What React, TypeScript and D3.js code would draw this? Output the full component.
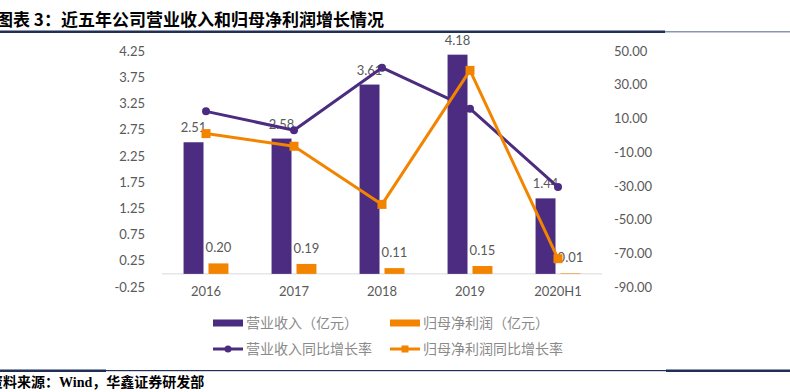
import React, {useEffect, useRef} from 'react';
import * as d3 from "d3";

const years = ["2016", "2017", "2018", "2019", "2020H1"];
const revenue = [2.51, 2.58, 3.61, 4.18, 1.44];
const netProfit = [0.20, 0.19, 0.11, 0.15, 0.01];
const revenueGrowth = [14.2, 3.0, 40.1, 15.8, -30.7];
const profitGrowth = [1.0, -6.5, -41.0, 38.5, -73.2];
const leftTicks = [-0.25, 0.25, 0.75, 1.25, 1.75, 2.25, 2.75, 3.25, 3.75, 4.25];
const rightTicks = [-90, -70, -50, -30, -10, 10, 30, 50];

const PURPLE = "#4b2c80";
const ORANGE = "#f38400";
const GRAY = "#595959";
const NUM_FONT = "Lato, 'Noto Sans', sans-serif";
const CJK_FONT = "'Noto Sans CJK SC', sans-serif";

export default function App() {
    const ref = useRef<SVGSVGElement>(null);

    useEffect(() => {
        const svg = d3.select(ref.current);
        svg.selectAll("*").remove();

        const W = 790;
        const plot = {left: 162, right: 602, top: 51, bottom: 287};

        // title + rules
        svg.append("text")
            .attr("x", -4).attr("y", 26)
            .attr("font-family", CJK_FONT).attr("font-weight", "bold")
            .attr("font-size", 17).attr("fill", "#000")
            .text("图表 3：近五年公司营业收入和归母净利润增长情况");
        svg.append("rect").attr("x", 0).attr("y", 30.5).attr("width", 665).attr("height", 2.5).attr("fill", "#1f2f55");
        svg.append("rect").attr("x", 665).attr("y", 31).attr("width", W - 665).attr("height", 1.5).attr("fill", "#8a96b0");

        svg.append("rect").attr("x", 0).attr("y", 369.5).attr("width", 106).attr("height", 2.5).attr("fill", "#1f2f55");
        svg.append("rect").attr("x", 106).attr("y", 370).attr("width", 560).attr("height", 1.2).attr("fill", "#1f2f55");
        svg.append("rect").attr("x", 666).attr("y", 369.5).attr("width", W - 666).attr("height", 2.5).attr("fill", "#1f2f55");
        svg.append("text")
            .attr("x", -11).attr("y", 387)
            .attr("font-family", "'Liberation Serif', 'Noto Sans CJK SC', serif").attr("font-weight", "bold")
            .attr("font-size", 14).attr("fill", "#000")
            .text("资料来源：Wind，华鑫证券研发部");

        // scales
        const x = d3.scaleBand<string>()
            .domain(years)
            .range([plot.left, plot.right])
            .paddingInner(0.49)
            .paddingOuter(0.245);
        const sub = d3.scaleBand<string>()
            .domain(["rev", "np"])
            .range([0, x.bandwidth()])
            .paddingInner(0.2);
        const yL = d3.scaleLinear().domain([-0.25, 4.25]).range([plot.bottom, plot.top]);
        const yR = d3.scaleLinear().domain([-90, 50]).range([plot.bottom, plot.top]);
        const cx = (i: number) => (x(years[i]) as number) + x.bandwidth() / 2;

        // axes
        const leftAxis = svg.append("g")
            .attr("transform", `translate(${plot.left},0)`)
            .call(d3.axisLeft(yL).tickValues(leftTicks).tickSize(0).tickPadding(17)
                .tickFormat((d: any) => (+d).toFixed(2)));
        const rightAxis = svg.append("g")
            .attr("transform", `translate(${plot.right},0)`)
            .call(d3.axisRight(yR).tickValues(rightTicks).tickSize(0).tickPadding(12)
                .tickFormat((d: any) => (+d).toFixed(2)));
        [leftAxis, rightAxis].forEach(a => {
            a.select(".domain").remove();
            a.selectAll("text").attr("font-family", NUM_FONT).attr("font-size", 13).attr("fill", GRAY);
        });

        svg.append("line")
            .attr("x1", plot.left).attr("x2", plot.right)
            .attr("y1", yL(0)).attr("y2", yL(0))
            .attr("stroke", "#d9d9d9").attr("stroke-width", 1);

        const bottomAxis = svg.append("g")
            .attr("transform", `translate(0,${yL(0)})`)
            .call(d3.axisBottom(x).tickSize(0).tickPadding(13));
        bottomAxis.select(".domain").remove();
        bottomAxis.selectAll("text").attr("font-family", NUM_FONT).attr("font-size", 13).attr("fill", GRAY);

        // bars
        const bars = svg.append("g");
        bars.selectAll(".rev").data(revenue).enter().append("rect")
            .attr("x", (d, i) => (x(years[i]) as number) + (sub("rev") as number))
            .attr("y", d => yL(d))
            .attr("width", sub.bandwidth())
            .attr("height", d => yL(0) - yL(d))
            .attr("fill", PURPLE);
        bars.selectAll(".np").data(netProfit).enter().append("rect")
            .attr("x", (d, i) => (x(years[i]) as number) + (sub("np") as number))
            .attr("y", d => yL(d))
            .attr("width", sub.bandwidth())
            .attr("height", d => yL(0) - yL(d))
            .attr("fill", ORANGE);

        // bar labels
        const labels = svg.append("g")
            .attr("font-family", NUM_FONT).attr("font-size", 13).attr("fill", GRAY)
            .attr("text-anchor", "middle");
        revenue.forEach((d, i) => {
            labels.append("text")
                .attr("x", (x(years[i]) as number) + (sub("rev") as number) + sub.bandwidth() / 2)
                .attr("y", yL(d) - 10)
                .text(d.toFixed(2));
        });
        netProfit.forEach((d, i) => {
            labels.append("text")
                .attr("x", (x(years[i]) as number) + (sub("np") as number) + sub.bandwidth() / 2)
                .attr("y", yL(d) - 11)
                .text(d.toFixed(2));
        });

        // growth lines
        const line = d3.line<number>().x((d, i) => cx(i)).y(d => yR(d));
        svg.append("path").datum(revenueGrowth)
            .attr("d", line).attr("fill", "none")
            .attr("stroke", PURPLE).attr("stroke-width", 3).attr("stroke-linejoin", "round");
        svg.append("g").selectAll("circle").data(revenueGrowth).enter().append("circle")
            .attr("cx", (d, i) => cx(i)).attr("cy", d => yR(d)).attr("r", 4)
            .attr("fill", PURPLE);

        svg.append("path").datum(profitGrowth)
            .attr("d", line).attr("fill", "none")
            .attr("stroke", ORANGE).attr("stroke-width", 3).attr("stroke-linejoin", "round");
        svg.append("g").selectAll("rect").data(profitGrowth).enter().append("rect")
            .attr("x", (d, i) => cx(i) - 4.5).attr("y", d => yR(d) - 4.5)
            .attr("width", 9).attr("height", 9)
            .attr("fill", ORANGE);

        // legend
        const legend = svg.append("g")
            .attr("font-family", CJK_FONT).attr("font-size", 14).attr("fill", "#8a8a8a");
        const items = [
            {label: "营业收入（亿元）", color: PURPLE, kind: "bar", x: 213, y: 323},
            {label: "归母净利润（亿元）", color: ORANGE, kind: "bar", x: 390, y: 323},
            {label: "营业收入同比增长率", color: PURPLE, kind: "circle", x: 213, y: 349},
            {label: "归母净利润同比增长率", color: ORANGE, kind: "square", x: 390, y: 349},
        ];
        items.forEach(it => {
            if (it.kind === "bar") {
                legend.append("rect").attr("x", it.x).attr("y", it.y - 3.5)
                    .attr("width", 30).attr("height", 7).attr("fill", it.color);
            } else {
                legend.append("line").attr("x1", it.x).attr("x2", it.x + 30)
                    .attr("y1", it.y).attr("y2", it.y)
                    .attr("stroke", it.color).attr("stroke-width", 3);
                if (it.kind === "circle") {
                    legend.append("circle").attr("cx", it.x + 15).attr("cy", it.y).attr("r", 3.5).attr("fill", it.color);
                } else {
                    legend.append("rect").attr("x", it.x + 11.5).attr("y", it.y - 3.5)
                        .attr("width", 7).attr("height", 7).attr("fill", it.color);
                }
            }
            legend.append("text").attr("x", it.x + 33).attr("y", it.y).attr("dy", "0.35em").text(it.label);
        });
    }, []);

    return (
        <svg ref={ref} width={790} height={392}
             style={{position: "absolute", left: 0, top: 0, background: "#fff"}}/>
    );
}
